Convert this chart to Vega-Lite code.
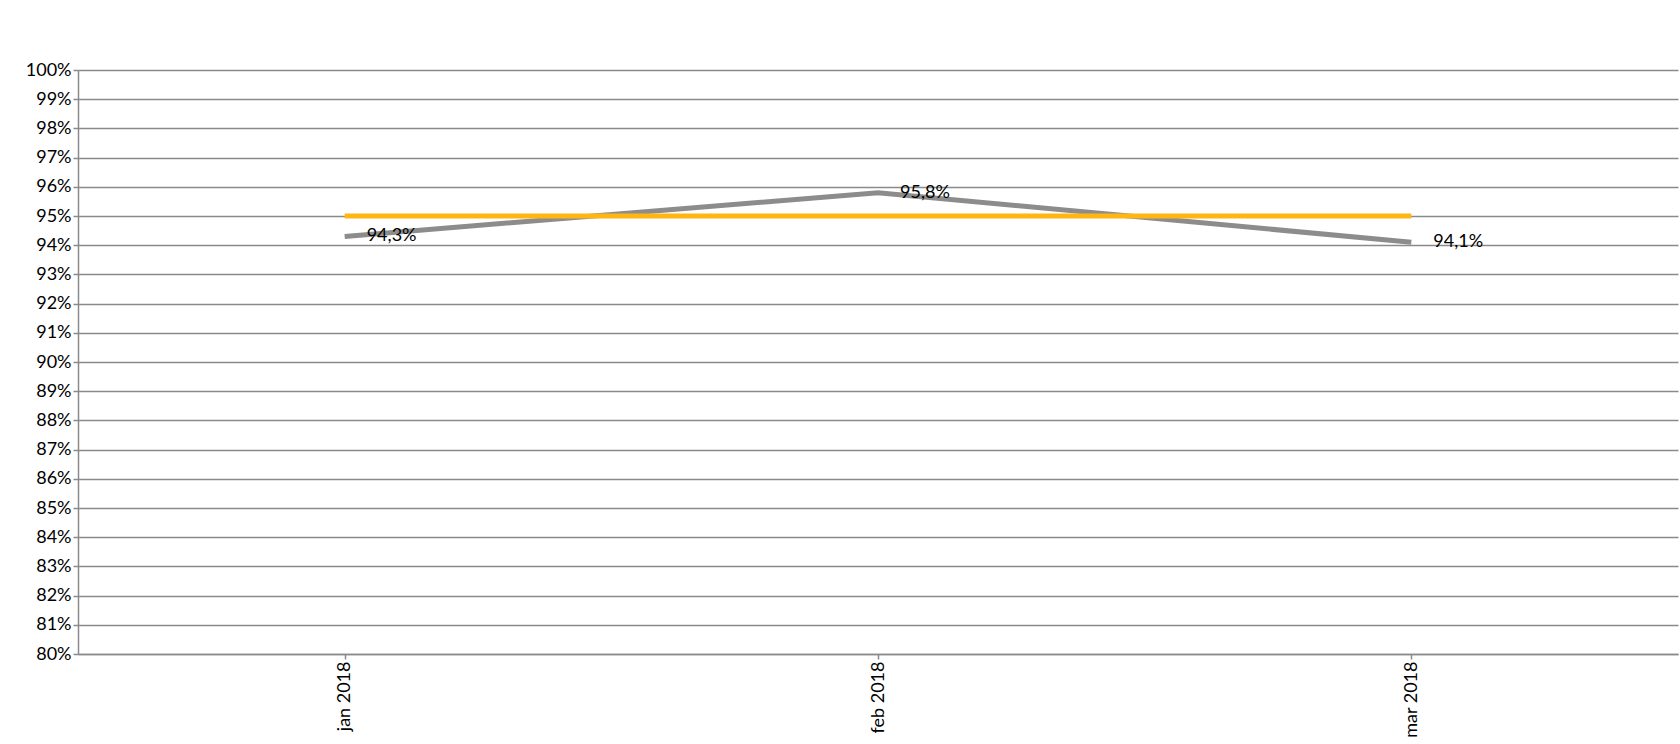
{
  "$schema": "https://vega.github.io/schema/vega-lite/v6.json",
  "width": 1600,
  "height": 584,
  "autosize": {"type": "none"},
  "padding": {"left": 78, "top": 70, "right": 2, "bottom": 90},
  "background": "white",
  "config": {
    "view": {"stroke": null},
    "font": "Lato",
    "axis": {"labelFont": "Lato", "labelFontSize": 18, "labelColor": "#000000", "domainColor": "#8a8a8a", "tickColor": "#8a8a8a", "gridColor": "#8a8a8a", "domainWidth": 1.5, "tickWidth": 1.5, "gridWidth": 1.5}
  },
  "data": {"values": [
      {"period": "jan 2018", "year": "2018", "series": "A", "value": 0.943, "label": "94,3%"},
      {"period": "feb 2018", "year": "2018", "series": "A", "value": 0.958, "label": "95,8%"},
      {"period": "mar 2018", "year": "2018", "series": "A", "value": 0.941, "label": "94,1%"},
      {"period": "jan 2018", "year": "2018", "series": "T", "value": 0.95},
      {"period": "feb 2018", "year": "2018", "series": "T", "value": 0.95},
      {"period": "mar 2018", "year": "2018", "series": "T", "value": 0.95}
  ]},
  "encoding": {
    "y": {
      "field": "value",
      "type": "quantitative",
      "scale": {"domain": [0.8, 1.0], "nice": false, "zero": false},
      "axis": {"title": null, "format": ".0%", "grid": true}
    },
    "x": {"field": "period", "type": "ordinal", "sort": null, "axis": {"title": null}}
  },
  "layer": [
    {
      "mark": {"type": "line", "strokeWidth": 5},
      "encoding": {
        "color": {"field": "series", "type": "nominal", "scale": {"domain": ["T", "A"], "range": ["#FFB612", "#8C8C8C"]}, "legend": null}
      }
    },
    {
      "transform": [{"filter": "datum.series === 'A'"}],
      "mark": {"type": "text", "align": "left", "baseline": "middle", "dx": 22, "fontSize": 18},
      "encoding": {"text": {"field": "label", "type": "nominal"}}
    }
  ]
}
